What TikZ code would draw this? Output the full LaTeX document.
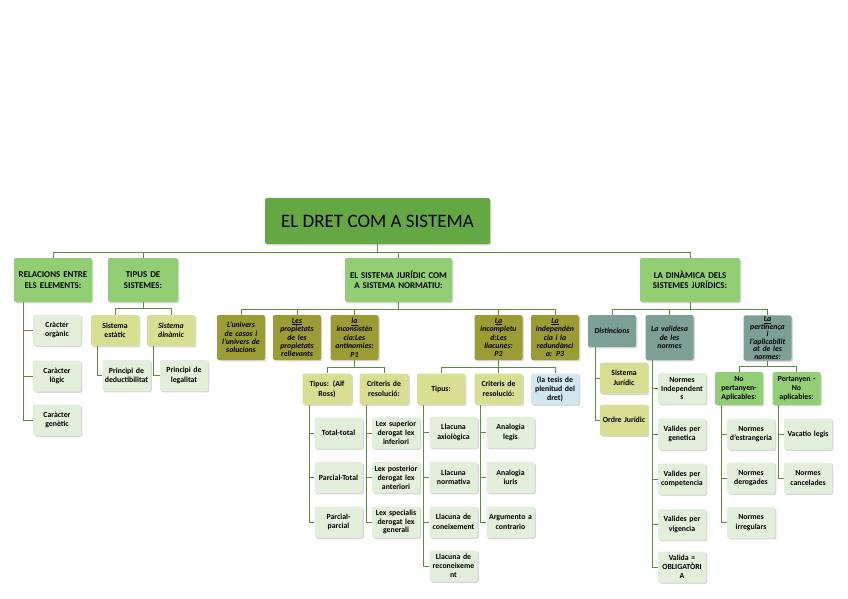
\documentclass[tikz,border=0pt]{standalone}
\usepackage{fontspec}
\setmainfont{Carlito}
\usetikzlibrary{shadows}

\definecolor{titlegreen}{RGB}{100,168,68}
\definecolor{headgreen}{RGB}{146,206,116}
\definecolor{palegreen}{RGB}{226,239,218}
\definecolor{yelgreen}{RGB}{216,223,146}
\definecolor{olivebox}{RGB}{156,156,52}
\definecolor{greybox}{RGB}{124,160,150}
\definecolor{bluebox}{RGB}{208,230,240}
\definecolor{linegreen}{RGB}{92,140,62}

\tikzset{
  box/.style={rounded corners=2pt, align=center, inner sep=1pt, text=black,
    drop shadow={shadow xshift=1.3pt, shadow yshift=-1.3pt, opacity=0.3}},
  titlebox/.style={box, fill=titlegreen, minimum width=225, minimum height=46,
    font=\fontsize{19}{22}\selectfont},
  headbox/.style={box, fill=headgreen, minimum height=44, font=\fontsize{8.9}{10.5}\bfseries},
  leafbox/.style={box, fill=palegreen, text width=46pt, minimum height=31, font=\fontsize{7.8}{9.5}\bfseries},
  ylbox/.style={leafbox, fill=yelgreen},
  olbox/.style={box, fill=olivebox, text width=46pt, minimum height=45, font=\fontsize{7.8}{8.4}\bfseries\itshape},
  grbox/.style={olbox, fill=greybox},
  link/.style={draw=linegreen, line width=0.9pt}
}

\begin{document}
\begin{tikzpicture}[x=1pt, y=-1pt]
\useasboundingbox (0,0) rectangle (848,599);

% top
\node[titlebox] (title) at (377.5,221) {EL DRET COM A SISTEMA};

\node[headbox, text width=76pt, minimum width=76] (rel) at (53,280) {RELACIONS ENTRE\\ELS ELEMENTS:};
\node[headbox, text width=68pt, minimum width=70] (tip) at (143,280) {TIPUS DE\\SISTEMES:};
\node[headbox, text width=105pt, minimum width=107] (sis) at (398.5,280) {EL SISTEMA JURÍDIC COM\\A SISTEMA NORMATIU:};
\node[headbox, text width=98pt, minimum width=100] (din) at (690,280) {LA DINÀMICA DELS\\SISTEMES JURÍDICS:};

\coordinate (bus0) at (377.5,252);
\draw[link] (title.south) -- (bus0);
\foreach \n in {rel,tip,sis,din} \draw[link] (bus0) -| (\n.north);

% relacions
\node[leafbox] (cor) at (57,330) {Cràcter\\orgànic};
\node[leafbox] (clo) at (57,376) {Caràcter\\lògic};
\node[leafbox] (cge) at (57,420) {Caràcter\\genètic};
\coordinate (relsp) at (23,302);
\foreach \n in {cor,clo,cge} \draw[link] (relsp) |- (\n.west);

% tipus de sistemes
\node[ylbox] (est) at (115,330.5) {Sistema\\estàtic};
\node[ylbox, font=\fontsize{7.8}{9.5}\bfseries\itshape] (dnm) at (171,330.5) {Sistema\\dinàmic};
\coordinate (bus1) at (143,308);
\draw[link] (tip.south) -- (bus1);
\foreach \n in {est,dnm} \draw[link] (bus1) -| (\n.north);
\node[leafbox] (ded) at (126.5,375.5) {Principi de\\deductibilitat};
\node[leafbox] (leg) at (184,375.5) {Principi de\\legalitat};
\coordinate (estsp) at (97,346);
\coordinate (dnmsp) at (153,346);
\draw[link] (estsp) |- (ded.west);
\draw[link] (dnmsp) |- (leg.west);

% sistema normatiu
\node[olbox] (uni) at (241,337.5) {L'univers\\de casos i\\l'univers de\\solucions};
\node[olbox] (pro) at (297,337.5) {\underline{Les}\\propietats\\de les\\propietats\\rellevants};
\node[olbox] (pa1) at (354.5,337.5) {\underline{la}\\inconsistèn\\cia:Les\\antinomies:\\P1};
\node[olbox] (pa2) at (498.5,337.5) {\underline{La}\\incompletu\\d:Les\\llacunes:\\P2};
\node[olbox] (pa3) at (555,337.5) {\underline{La}\\independèn\\cia i la\\redundànci\\a: P3};
\coordinate (bus2) at (398.5,309);
\draw[link] (sis.south) -- (bus2);
\foreach \n in {uni,pro,pa1,pa2,pa3} \draw[link] (bus2) -| (\n.north);

% P1
\node[ylbox, text width=47pt] (ross) at (327,389) {Tipus: (Alf\\Ross)};
\node[ylbox, text width=47pt] (crA) at (384,389) {Criteris de\\resolució:};
\coordinate (bus3) at (354.5,367);
\draw[link] (pa1.south) -- (bus3);
\foreach \n in {ross,crA} \draw[link] (bus3) -| (\n.north);
\node[leafbox] (tto) at (338.5,433) {Total-total};
\node[leafbox] (pto) at (338.5,477.5) {Parcial-Total};
\node[leafbox] (ppa) at (338.5,522) {Parcial-\\parcial};
\node[leafbox, font=\fontsize{7.8}{8.8}\bfseries] (lsu) at (396,433) {Lex superior\\derogat lex\\inferiori};
\node[leafbox, font=\fontsize{7.8}{8.8}\bfseries] (lpo) at (396,477.5) {Lex posterior\\derogat lex\\anteriori};
\node[leafbox, font=\fontsize{7.8}{8.8}\bfseries] (lsp) at (396,522) {Lex specialis\\derogat lex\\generali};
\coordinate (rosssp) at (309,405);
\coordinate (crAsp) at (366,405);
\foreach \n in {tto,pto,ppa} \draw[link] (rosssp) |- (\n.west);
\foreach \n in {lsu,lpo,lsp} \draw[link] (crAsp) |- (\n.west);

% P2
\node[ylbox] (tpB) at (441,389) {Tipus:};
\node[ylbox] (crB) at (498.5,389) {Criteris de\\resolució:};
\node[leafbox, fill=bluebox, font=\fontsize{7.8}{8.8}\bfseries] (ple) at (555,389) {(la tesis de\\plenitud del\\dret)};
\coordinate (bus4) at (498.5,367);
\draw[link] (pa2.south) -- (bus4);
\foreach \n in {tpB,crB,ple} \draw[link] (bus4) -| (\n.north);
\node[leafbox] (lax) at (453.5,432.5) {Llacuna\\axiològica};
\node[leafbox] (lno) at (453.5,477.5) {Llacuna\\normativa};
\node[leafbox] (lco) at (453.5,522) {Llacuna de\\coneixement};
\node[leafbox, font=\fontsize{7.8}{8.8}\bfseries] (lre) at (453.5,566) {Llacuna de\\reconeixeme\\nt};
\node[leafbox] (ale) at (510.5,432.5) {Analogia\\legis};
\node[leafbox] (aiu) at (510.5,477.5) {Analogia\\iuris};
\node[leafbox] (aco) at (510.5,522) {Argumento a\\contrario};
\coordinate (tpBsp) at (423,405);
\coordinate (crBsp) at (480,405);
\foreach \n in {lax,lno,lco,lre} \draw[link] (tpBsp) |- (\n.west);
\foreach \n in {ale,aiu,aco} \draw[link] (crBsp) |- (\n.west);

% dinamica
\node[grbox, minimum height=32] (dis) at (612,331) {Distincions};
\node[grbox] (val) at (669.5,337.5) {La validesa\\de les\\normes};
\node[grbox, font=\fontsize{7.8}{7.6}\bfseries\itshape] (per) at (767.5,338) {\underline{La}\\pertinença\\i\\l'aplicabilit\\at de les\\normes:};
\coordinate (bus5) at (690,309);
\draw[link] (din.south) -- (bus5);
\foreach \n in {dis,val,per} \draw[link] (bus5) -| (\n.north);

\node[ylbox] (sju) at (624,378) {Sistema\\Jurídic};
\node[ylbox] (oju) at (624,420) {Ordre Jurídic};
\coordinate (dissp) at (595,347);
\foreach \n in {sju,oju} \draw[link] (dissp) |- (\n.west);

\node[leafbox, font=\fontsize{7.8}{8.8}\bfseries] (nin) at (682,388.5) {Normes\\Independent\\s};
\node[leafbox] (vge) at (682,434) {Valides per\\genetica};
\node[leafbox] (vco) at (682,479) {Valides per\\competencia};
\node[leafbox] (vvi) at (682,524.5) {Valides per\\vigencia};
\node[leafbox, font=\fontsize{7.8}{8.8}\bfseries] (vob) at (682,567) {Valida =\\OBLIGATÒRI\\A};
\coordinate (valsp) at (652,360);
\foreach \n in {nin,vge,vco,vvi,vob} \draw[link] (valsp) |- (\n.west);

\node[headbox, text width=46pt, minimum height=33, font=\fontsize{7.8}{8.8}\bfseries] (npa) at (739,388.5) {No\\pertanyen-\\Aplicables:};
\node[headbox, text width=46pt, minimum height=33, font=\fontsize{7.8}{8.8}\bfseries] (pna) at (796.5,388.5) {Pertanyen -\\No\\aplicables:};
\coordinate (bus6) at (767.5,366);
\draw[link] (per.south) -- (bus6);
\foreach \n in {npa,pna} \draw[link] (bus6) -| (\n.north);

\node[leafbox] (nes) at (751,434) {Normes\\d'estrangeria};
\node[leafbox] (nde) at (751,478) {Normes\\derogades};
\node[leafbox] (nir) at (751,522.5) {Normes\\irregulars};
\node[leafbox] (vle) at (808,434) {Vacatio legis};
\node[leafbox] (nca) at (808,478) {Normes\\cancelades};
\coordinate (npasp) at (721,405);
\coordinate (pnasp) at (778,405);
\foreach \n in {nes,nde,nir} \draw[link] (npasp) |- (\n.west);
\foreach \n in {vle,nca} \draw[link] (pnasp) |- (\n.west);

\end{tikzpicture}
\end{document}
